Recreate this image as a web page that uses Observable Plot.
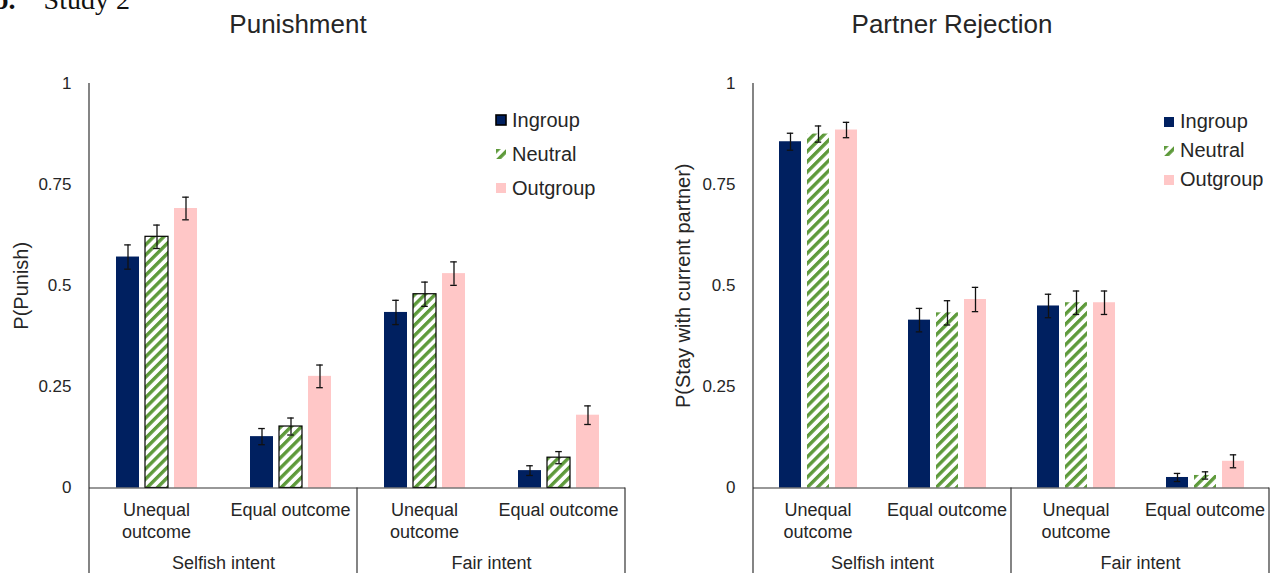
<!DOCTYPE html>
<html>
<head>
<meta charset="utf-8">
<script src="https://cdn.jsdelivr.net/npm/d3@7"></script>
<script src="https://cdn.jsdelivr.net/npm/@observablehq/plot@0.6"></script>
<style>
  html, body { margin: 0; padding: 0; background: #fff; }
  body { width: 1284px; height: 573px; overflow: hidden; position: relative;
         font-family: "Liberation Sans", Arial, sans-serif; color: #262626; }
  .abs { position: absolute; }
  #study { left: -7px; top: -16px; font-family: "Liberation Serif", "Times New Roman", serif;
           font-size: 28px; white-space: pre; color: #111; }
  .title { top: 9px; font-size: 26px; white-space: nowrap; transform: translateX(-50%); color: #262626; }
  .leg, .leg * { font-size: 20px !important; color: #262626 !important;
         font-family: "Liberation Sans", Arial, sans-serif !important; }
  .leg [class*="-swatches"] { margin: 0 !important; }
  .leg [class$="-swatch"] svg { margin-right: 6px !important; }
  #legL [class$="-swatch"] { padding-bottom: 0 !important; height: 34px; display: flex; align-items: center; }
  #legR [class$="-swatch"] { padding-bottom: 0 !important; height: 29px; display: flex; align-items: center; }
  #legL [class$="-swatch"]:nth-child(2) svg rect { stroke: #000; stroke-width: 1.6px; }
</style>
</head>
<body>
<div id="study" class="abs"><b>b.</b>    Study 2</div>
<div id="t1" class="abs title" style="left:298px">Punishment</div>
<div id="t2" class="abs title" style="left:952px">Partner Rejection</div>
<div id="left" class="abs" style="left:0;top:0"></div>
<div id="right" class="abs" style="left:660px;top:0"></div>
<div id="legL" class="abs leg" style="left:496px;top:103px"></div>
<div id="legR" class="abs leg" style="left:1164px;top:107px"></div>
<script>
// ---------- data ----------
const conditions = ["Selfish|Unequal", "Selfish|Equal", "Fair|Unequal", "Fair|Equal"];
const outcomeLabels = ["Unequal\noutcome", "Equal outcome", "Unequal\noutcome", "Equal outcome"];
const intentLabels = ["Selfish intent", "Fair intent"];
const intentFacets = ["Selfish|Unequal", "Fair|Unequal"];
const groups = ["Ingroup", "Neutral", "Outgroup"];
const yTicks = [0, 0.25, 0.5, 0.75, 1];

// Punishment: P(Punish)
const punishIngroup  = [0.571, 0.127, 0.434, 0.043];
const punishNeutral  = [0.621, 0.152, 0.479, 0.075];
const punishOutgroup = [0.691, 0.276, 0.530, 0.180];
const punishIngroupErr  = [0.030, 0.020, 0.030, 0.012];
const punishNeutralErr  = [0.029, 0.021, 0.030, 0.015];
const punishOutgroupErr = [0.028, 0.028, 0.029, 0.023];

// Partner rejection: P(Stay with current partner)
const stayIngroup  = [0.856, 0.415, 0.450, 0.026];
const stayNeutral  = [0.875, 0.433, 0.458, 0.031];
const stayOutgroup = [0.885, 0.466, 0.458, 0.066];
const stayIngroupErr  = [0.021, 0.029, 0.029, 0.010];
const stayNeutralErr  = [0.020, 0.030, 0.029, 0.009];
const stayOutgroupErr = [0.019, 0.030, 0.029, 0.016];

const NAVY = "#002060", PINK = "#FFC7C7", GREEN = "#5E9A3B", INK = "#262626";
const FONT = "'Liberation Sans', Arial, sans-serif";
const H = 573;

function panel({el, legEl, legId, values, errs, yLabel, width, marginLeft, patternId, neutralStroke, capInset, labelX}) {
  const rows = [];
  conditions.forEach((c, i) => groups.forEach((g, j) =>
    rows.push({cond: c, group: g, value: values[j][i], err: errs[j][i]})));
  const lo = d => d.value - d.err, hi = d => d.value + d.err;
  const marks = [
    Plot.barY(rows, {fx: "cond", x: "group", y: "value", fill: "group"}),
    Plot.ruleY([0], {stroke: "#333", strokeWidth: 1.2}),
    Plot.ruleX(rows, {fx: "cond", x: "group", y1: lo, y2: hi, stroke: "#111", strokeWidth: 1.3}),
    Plot.tickY(rows, {fx: "cond", x: "group", y: lo, stroke: "#111", strokeWidth: 1.3, inset: capInset}),
    Plot.tickY(rows, {fx: "cond", x: "group", y: hi, stroke: "#111", strokeWidth: 1.3, inset: capInset}),
    Plot.axisY({ticks: yTicks, tickFormat: d => String(d), tickSize: 0, tickPadding: 18,
                fontSize: 17, label: null}),
    Plot.axisFx({anchor: "bottom", tickSize: 0, tickPadding: 13, label: null, fontSize: 18,
                 lineHeight: 1.2, tickFormat: c => outcomeLabels[conditions.indexOf(c)]}),
    Plot.text(intentLabels, {fx: intentFacets, text: d => d, frameAnchor: "bottom-right",
                 textAnchor: "middle", dy: 81, fontSize: 18}),
    Plot.text([yLabel], {fx: [conditions[0]], text: d => d, frameAnchor: "left", rotate: -90,
                 textAnchor: "middle", dx: -(marginLeft - labelX), fontSize: 20})
  ];
  if (neutralStroke) {
    marks.splice(1, 0, Plot.barY(rows.filter(d => d.group === "Neutral"),
      {fx: "cond", x: "group", y: "value", fill: "none", stroke: "#000", strokeWidth: 1.2}));
  }
  const plot = Plot.plot({
    width, height: H, marginTop: 83, marginBottom: 85.5, marginLeft, marginRight: 14,
    style: {fontFamily: FONT, fontSize: "18px", color: INK, background: "transparent", overflow: "visible"},
    fx: {domain: conditions, padding: 0, axis: null},
    x: {domain: groups, paddingInner: 0.22, paddingOuter: 0.86, axis: null},
    y: {domain: [0, 1], axis: null},
    color: {domain: groups, range: [NAVY, `url(#${patternId})`, PINK]},
    marks
  });
  const svg = d3.select(plot);
  const defs = svg.insert("defs", ":first-child");
  const pat = defs.append("pattern").attr("id", patternId).attr("patternUnits", "userSpaceOnUse")
    .attr("width", 7.2).attr("height", 7.2).attr("patternTransform", "rotate(45)");
  pat.append("rect").attr("width", 7.2).attr("height", 7.2).attr("fill", "#fff");
  pat.append("rect").attr("width", 3.4).attr("height", 7.2).attr("fill", GREEN);

  // y-axis line and category table lines, positioned from the plot's scales
  const fx = plot.scale("fx"), y = plot.scale("y");
  const y0 = y.apply(0), y1 = y.apply(1);
  const lines = [
    {x: fx.apply(conditions[0]), top: y1},
    {x: fx.apply(conditions[2]), top: y0},
    {x: fx.apply(conditions[3]) + fx.bandwidth, top: y0}
  ];
  svg.append("g").attr("stroke", "#333").attr("stroke-width", 1.2)
    .selectAll("line").data(lines).join("line")
    .attr("x1", d => d.x).attr("x2", d => d.x).attr("y1", d => d.top).attr("y2", H);
  el.appendChild(plot);

  const leg = plot.legend("color", {legend: "swatches", columns: 1, swatchSize: 10, className: legId});
  legEl.appendChild(leg);
}

panel({el: document.getElementById("left"), legEl: document.getElementById("legL"), legId: "lgl",
  values: [punishIngroup, punishNeutral, punishOutgroup],
  errs: [punishIngroupErr, punishNeutralErr, punishOutgroupErr],
  yLabel: "P(Punish)", width: 640, marginLeft: 88, patternId: "stripeL", neutralStroke: true,
  capInset: 8.2, labelX: 20});

panel({el: document.getElementById("right"), legEl: document.getElementById("legR"), legId: "lgr",
  values: [stayIngroup, stayNeutral, stayOutgroup],
  errs: [stayIngroupErr, stayNeutralErr, stayOutgroupErr],
  yLabel: "P(Stay with current partner)", width: 624, marginLeft: 92, patternId: "stripeR", neutralStroke: false,
  capInset: 7.8, labelX: 22});
</script>
</body>
</html>
